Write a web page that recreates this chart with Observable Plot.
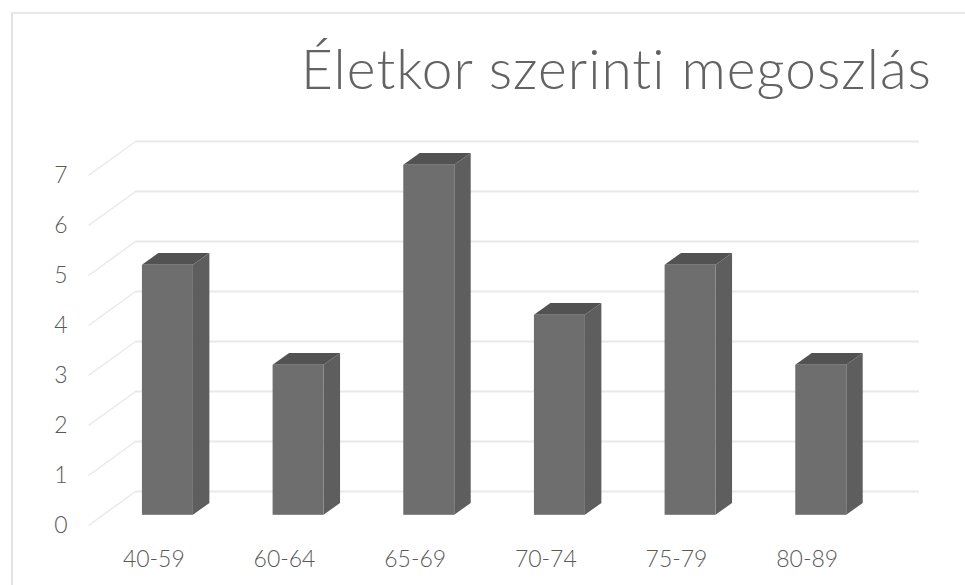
<!DOCTYPE html>
<html>
<head>
<meta charset="utf-8">
<script src="https://cdn.jsdelivr.net/npm/d3@7"></script>
<script src="https://cdn.jsdelivr.net/npm/@observablehq/plot@0.6"></script>
<style>
  html, body { margin: 0; padding: 0; background: #fff; }
  #wrap { position: relative; width: 965px; height: 585px; overflow: hidden; font-family: Lato, "Open Sans", sans-serif; }
  #frame { position: absolute; left: 11px; top: 12px; right: -5px; bottom: -5px; border-left: 2px solid #e3e3e3; border-top: 2px solid #e8e8e8; }
  #title { position: absolute; left: 0; top: 28px; width: 931px; text-align: right; font-size: 55px; font-weight: 300; color: #636363; line-height: 80px; white-space: nowrap; }
  #title span { display: inline-block; }
  #chart { position: absolute; left: 0; top: 0; }
</style>
</head>
<body>
<div id="wrap">
  <div id="frame"></div>
  <div id="chart"></div>
  <div id="title"><span>Életkor szerinti megoszlás</span></div>
</div>
<script>
// ---- data ----
const categories = ["40-59", "60-64", "65-69", "70-74", "75-79", "80-89"];
const counts = [5, 3, 7, 4, 5, 3];
const yTicks = [0, 1, 2, 3, 4, 5, 6, 7];

// ---- layout (pixels) ----
const W = 965, H = 585;
const mLeft = 88, mRight = 93, mTop = 175, mBottom = 60;
const pxPerX = (W - mLeft - mRight) / categories.length; // px per category unit
const pxPerY = (H - mTop - mBottom) / 7;                 // px per value unit
const depthPx = [47, 34];           // full floor depth offset (right, up)
const d0 = 0.3, d1 = 0.65;          // bar front / back depth fractions
const halfW = 51 / 2 / pxPerX;      // half bar width in category units
const DX = depthPx[0] / pxPerX, DY = depthPx[1] / pxPerY;

const bars = categories.map((c, i) => ({cat: c, i, v: counts[i]}));

const fx = i => i + d0 * DX, fy = v => v + d0 * DY;
const bx = i => i + d1 * DX, by = v => v + d1 * DY;

// side face: front-right edge and back-right edge of each bar
const sideFaces = bars.flatMap(b => [
  {cat: b.cat, x: fx(b.i) + halfW, y1: fy(0), y2: fy(b.v)},
  {cat: b.cat, x: bx(b.i) + halfW, y1: by(0), y2: by(b.v)}
]);
// top face: front edge and back edge of each bar
const topFaces = bars.flatMap(b => [
  {cat: b.cat, y: fy(b.v), x1: fx(b.i) - halfW, x2: fx(b.i) + halfW},
  {cat: b.cat, y: by(b.v), x1: bx(b.i) - halfW, x2: bx(b.i) + halfW}
]);

const grid = "#e9e9e9";
const chart = Plot.plot({
  width: W, height: H,
  marginLeft: mLeft, marginRight: mRight, marginTop: mTop, marginBottom: mBottom,
  style: {fontFamily: "Lato, 'Open Sans', sans-serif", fontSize: "23px", color: "#595959", background: "transparent", overflow: "visible"},
  x: {domain: [-0.5, categories.length - 0.5]},
  y: {domain: [0, 7]},
  marks: [
    Plot.ruleY(yTicks, {y: d => d + DY, x1: -0.5 + DX, x2: categories.length - 0.5 + DX, stroke: grid, strokeWidth: 2}),
    Plot.link(yTicks, {x1: -0.5, y1: d => d, x2: -0.5 + DX, y2: d => d + DY, stroke: grid, strokeWidth: 1.5}),
    Plot.areaY(sideFaces, {x: "x", y1: "y1", y2: "y2", z: "cat", fill: "#5e5e5e", curve: "linear"}),
    Plot.areaX(topFaces, {y: "y", x1: "x1", x2: "x2", z: "cat", fill: "#525252", curve: "linear"}),
    Plot.rect(bars, {x1: d => fx(d.i) - halfW, x2: d => fx(d.i) + halfW, y1: d => fy(0), y2: d => fy(d.v), fill: "#6e6e6e"}),
    Plot.axisY(yTicks, {anchor: "left", tickSize: 0, tickPadding: 21, tickFormat: d3.format("d"), fontSize: 23, fill: "#595959", fontWeight: 300}),
    Plot.axisX(d3.range(categories.length), {anchor: "bottom", tickSize: 0, tickPadding: 25, tickFormat: i => categories[i], fontSize: 23, fill: "#595959", fontWeight: 300})
  ]
});
document.getElementById("chart").appendChild(chart);

// fit title width to reference
const span = document.querySelector("#title span");
const target = 631;
const w = span.getBoundingClientRect().width;
const n = span.textContent.length;
const ls = (target - w) / (n - 1);
span.style.letterSpacing = ls.toFixed(2) + "px";
span.style.marginRight = (-ls).toFixed(2) + "px";
</script>
</body>
</html>
